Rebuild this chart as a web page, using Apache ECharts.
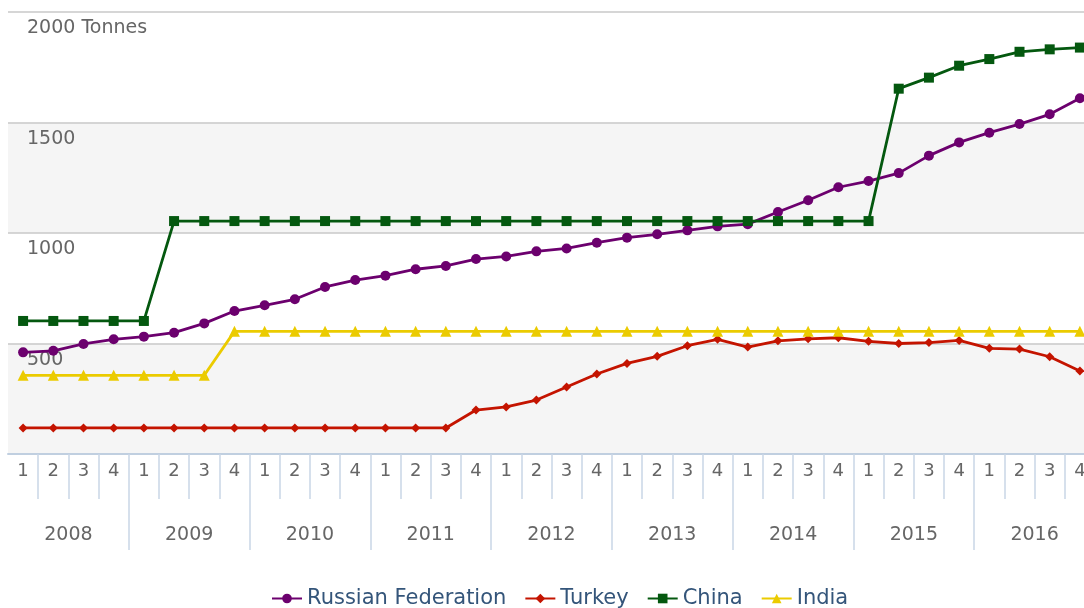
<!DOCTYPE html>
<html>
<head>
<meta charset="utf-8">
<script src="https://cdn.jsdelivr.net/npm/echarts@6/dist/echarts.min.js"></script>
<style>
  html, body { margin: 0; padding: 0; background: #fff; }
</style>
</head>
<body>
<div id="main" style="width:1084px;height:608px"></div>
<script>
// 季度数据 2008-2016
const years = ['2008', '2009', '2010', '2011', '2012', '2013', '2014', '2015', '2016'];
const quarterLabels = ['1', '2', '3', '4'];
const yTicks = [0, 500, 1000, 1500, 2000];

const russia = [460, 467, 498, 519, 531, 549, 591, 647, 673, 700, 756, 787, 807, 836, 851, 882, 894, 917,
  930, 956, 979, 994, 1012, 1030, 1040, 1095, 1148, 1207, 1235, 1271, 1350, 1410, 1454, 1493, 1537, 1610];
const turkey = [118, 118, 118, 118, 118, 118, 118, 118, 118, 118, 118, 118, 118, 118, 118, 199, 213, 244,
  303, 362, 410, 442, 490, 519, 484, 512, 521, 526, 510, 500, 504, 514, 478, 475, 440, 376];
const china = [602, 602, 602, 602, 602, 1054, 1054, 1054, 1054, 1054, 1054, 1054, 1054, 1054, 1054, 1054, 1054, 1054,
  1054, 1054, 1054, 1054, 1054, 1054, 1054, 1054, 1054, 1054, 1054, 1653, 1703, 1757, 1787, 1820, 1831, 1839];
const india = [356, 356, 356, 356, 356, 356, 356, 555, 555, 555, 555, 555, 555, 555, 555, 555, 555, 555,
  555, 555, 555, 555, 555, 555, 555, 555, 555, 555, 555, 555, 555, 555, 555, 555, 555, 555];

// 每年4个季度
let quarters = [];
for (let i = 0; i < years.length; i++) {
  for (let j = 0; j < quarterLabels.length; j++) {
    quarters.push(quarterLabels[j]);
  }
}

const font = 'DejaVu Sans';
const tickColor = '#c9d6e6';
// 最左边那根刻度线不画
const skipFirst = function (index) { return index !== 0; };

let myChart = echarts.init(document.getElementById('main'));
let option;
option = {
  animation: false,
  textStyle: { fontFamily: font },
  // 右边超出画布一点，最后一个季度被截掉
  grid: { left: 8, width: 1087, top: 12, bottom: 154, outerBoundsMode: 'none' },
  legend: {
    left: 266,
    top: 583,
    itemWidth: 30,
    itemHeight: 12,
    itemGap: 18,
    textStyle: { color: '#34557a', fontSize: 21, fontFamily: font },
    data: ['Russian Federation', 'Turkey', 'China', 'India']
  },
  xAxis: [
    {
      type: 'category',
      data: quarters,
      position: 'bottom',
      boundaryGap: true,
      axisLine: { lineStyle: { color: '#c0cfe0', width: 2 } },
      axisTick: { show: true, interval: skipFirst, length: 45, lineStyle: { color: tickColor, width: 1.5 } },
      axisLabel: { interval: 0, margin: 8, fontSize: 18, color: '#666', fontFamily: font }
    },
    {
      type: 'category',
      data: years,
      position: 'bottom',
      boundaryGap: true,
      axisLine: { show: false },
      axisTick: { show: true, interval: skipFirst, length: 96, lineStyle: { color: tickColor, width: 1.5 } },
      axisLabel: { interval: 0, margin: 72, fontSize: 19, color: '#666', fontFamily: font }
    }
  ],
  yAxis: {
    type: 'value',
    min: yTicks[0],
    max: yTicks[yTicks.length - 1],
    interval: 500,
    axisLine: { show: false },
    axisTick: { show: false },
    splitLine: { lineStyle: { color: '#c8c8c8', width: 1.5 } },
    splitArea: { show: true, areaStyle: { color: ['#f5f5f5', '#ffffff'] } },
    axisLabel: {
      inside: true,
      margin: 19,
      verticalAlign: 'top',
      padding: [7, 0, 0, 0],
      fontSize: 19,
      color: '#666',
      fontFamily: font,
      formatter: function (value) {
        if (value === 0) return '';
        if (value === 2000) return value + ' Tonnes';
        return value;
      }
    }
  },
  series: [
    {
      name: 'Russian Federation',
      type: 'line',
      data: russia,
      symbol: 'circle',
      symbolSize: 10,
      itemStyle: { color: '#6c006e' },
      lineStyle: { width: 2.8 }
    },
    {
      name: 'Turkey',
      type: 'line',
      data: turkey,
      symbol: 'diamond',
      symbolSize: 9,
      itemStyle: { color: '#c41400' },
      lineStyle: { width: 2.8 }
    },
    {
      name: 'China',
      type: 'line',
      data: china,
      symbol: 'rect',
      symbolSize: 10,
      itemStyle: { color: '#04580f' },
      lineStyle: { width: 2.8 }
    },
    {
      name: 'India',
      type: 'line',
      data: india,
      symbol: 'triangle',
      symbolSize: 11,
      itemStyle: { color: '#ebcb00' },
      lineStyle: { width: 2.8 }
    }
  ]
};

option && myChart.setOption(option);
</script>
</body>
</html>
